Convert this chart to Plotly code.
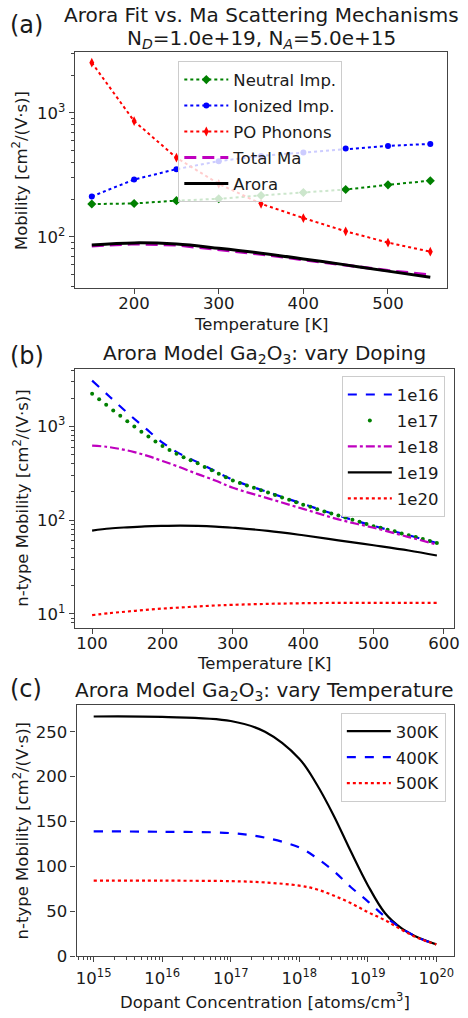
import plotly.graph_objects as go

# ---------------- Panel (a) data ----------------
T_a = [150, 200, 250, 300, 350, 400, 450, 500, 550]
neutral_imp = [184, 186, 196, 203, 216, 228, 241, 263, 284]
ionized_imp = [212, 290, 352, 408, 450, 479, 516, 542, 562]
po_phonons = [2540, 859, 435, 268, 185, 142, 111, 90, 76]
total_ma = [84.5, 88, 86, 79.5, 72.5, 65.5, 59, 53.5, 49.5]
arora_a = [86, 89.5, 87.5, 81, 74, 66.5, 59.5, 53, 47.3]

# ---------------- Panel (b) data ----------------
T_b = [100, 125, 150, 175, 200, 225, 250, 275, 300, 350, 400, 450, 500, 550, 590]
mu_1e16 = [3080, 2075, 1400, 969, 674, 510, 416, 333, 270, 199, 149, 112, 87, 69, 57]
T_b18 = [100, 120, 140, 160, 180, 200, 225, 250, 275, 300, 350, 400, 450, 500, 550, 590]
mu_1e18 = [625, 608, 575, 533, 482, 428, 367, 310, 265, 222, 171, 132, 102, 83, 66, 55]
mu_1e19 = [77.5, 81.5, 84, 86, 87, 87.5, 87, 85.5, 83, 77, 69, 61, 54, 47.5, 42]
mu_1e20 = [9.7, 10.2, 10.6, 11.0, 11.4, 11.7, 12.0, 12.3, 12.5, 12.8, 13.0, 13.1, 13.1, 13.1, 13.1]
T_b17 = [100, 110, 120, 130, 140, 150, 160, 170, 180, 190,
         200, 210, 220, 230, 240, 250, 260, 270, 280, 290,
         300, 310, 320, 330, 340, 350, 360, 370, 380, 390,
         400, 410, 420, 430, 440, 450, 460, 470, 480, 490,
         500, 510, 520, 530, 540, 550, 560, 570, 580, 590]
mu_1e17 = [2240, 1950, 1700, 1480, 1300, 1140, 1000, 880, 780, 690,
           620, 560, 510, 470, 435, 405, 370, 340, 312, 288,
           265, 250, 235, 222, 209, 197, 186, 175, 165, 155,
           146, 139, 131, 124, 118, 112, 107, 101, 96, 91,
           86, 83, 79, 76, 72, 69, 66, 63, 60, 57]

# ---------------- Panel (c) data ----------------
dop_exp = [15, 16, 17, 17.5, 18, 18.25, 18.5, 18.75, 19, 19.25, 19.5, 19.75, 20]
mu_300K = [267, 266.5, 262, 250, 220, 192, 157, 117, 79, 48, 30.5, 20, 13]
mu_400K = [139, 138.5, 137, 132, 121, 109.5, 95, 77, 61, 44, 30.5, 20, 13]
mu_500K = [84, 84, 83.5, 82, 78.5, 74.5, 67.5, 59, 49, 40, 29, 19.5, 13]
dopant = [10.0 ** e for e in dop_exp]

W, H = 468, 1018
FONT = "DejaVu Sans"
TXT = "#1a1a1a"
AX = "#444444"
FS = 16.5

def px_x(p):
    return p / W

def px_y(p):
    return 1 - p / H

fig = go.Figure()

def add(x, y, name, xa, ya, leg, **kw):
    fig.add_trace(go.Scatter(x=x, y=y, name=name, xaxis=xa, yaxis=ya, legend=leg,
                             legendgroup=name, **kw))

# Panel (a)
add(T_a, neutral_imp, "Neutral Imp.", "x", "y", "legend", mode="lines+markers",
    line=dict(color="#008000", dash="dot", width=2),
    marker=dict(symbol="diamond", size=7, color="#008000"))
add(T_a, ionized_imp, "Ionized Imp.", "x", "y", "legend", mode="lines+markers",
    line=dict(color="#0000ff", dash="dot", width=2),
    marker=dict(symbol="circle", size=6, color="#0000ff"))
add(T_a, po_phonons, "PO Phonons", "x", "y", "legend", mode="lines+markers",
    line=dict(color="#ff0000", dash="dot", width=2),
    marker=dict(symbol="diamond-tall", size=7, color="#ff0000"))
add(T_a, total_ma, "Total Ma", "x", "y", "legend", mode="lines",
    line=dict(color="#bf00bf", dash="12px,6px", width=3))
add(T_a, arora_a, "Arora", "x", "y", "legend", mode="lines",
    line=dict(color="black", width=3, shape="spline"))

# Panel (b)
add(T_b, mu_1e16, "1e16", "x2", "y2", "legend2", mode="lines",
    line=dict(color="#0000ff", dash="dash", width=2.2, shape="spline"))
add(T_b17, mu_1e17, "1e17", "x2", "y2", "legend2", mode="markers",
    marker=dict(color="#008000", size=4))
add(T_b18, mu_1e18, "1e18", "x2", "y2", "legend2", mode="lines",
    line=dict(color="#bf00bf", dash="dashdot", width=2.2, shape="spline"))
add(T_b, mu_1e19, "1e19", "x2", "y2", "legend2", mode="lines",
    line=dict(color="black", width=2.2, shape="spline"))
add(T_b, mu_1e20, "1e20", "x2", "y2", "legend2", mode="lines",
    line=dict(color="#ff0000", dash="dot", width=2.2, shape="spline"))

# Panel (c)
add(dopant, mu_300K, "300K", "x3", "y3", "legend3", mode="lines",
    line=dict(color="black", width=2.2, shape="spline"))
add(dopant, mu_400K, "400K", "x3", "y3", "legend3", mode="lines",
    line=dict(color="#0000ff", dash="dash", width=2.2, shape="spline"))
add(dopant, mu_500K, "500K", "x3", "y3", "legend3", mode="lines",
    line=dict(color="#ff0000", dash="dot", width=2.2, shape="spline"))

common = dict(showline=True, mirror=True, linecolor=AX, linewidth=1.2, showgrid=False,
              zeroline=False, ticks="outside", ticklen=5, tickcolor=AX, tickwidth=1,
              tickfont=dict(family=FONT, size=FS, color=TXT))

def log_minor(lo, hi):
    return [float(m) * 10.0 ** e for e in range(lo, hi) for m in range(2, 10)]

minor_style = dict(ticks="outside", ticklen=3, tickcolor=AX, tickwidth=1, showgrid=False)

legend_style = dict(xanchor="left", yanchor="top", bgcolor="rgba(255,255,255,0.8)",
                    bordercolor="#cccccc", borderwidth=1, traceorder="grouped",
                    tracegroupgap=1.5, itemwidth=44,
                    font=dict(family=FONT, size=FS, color=TXT))

fig.update_layout(
    width=W, height=H, margin=dict(l=0, r=0, t=0, b=0),
    paper_bgcolor="white", plot_bgcolor="white",
    font=dict(family=FONT, size=FS, color=TXT),
    xaxis=dict(domain=[px_x(75), px_x(453)], anchor="y", range=[130, 570],
               tickvals=[200, 300, 400, 500], ticklabelstandoff=-5, **common),
    yaxis=dict(domain=[px_y(291), px_y(53)], anchor="x", type="log", range=[1.587, 3.487],
               tickvals=[100, 1000], ticktext=["10<sup>2</sup>", "10<sup>3</sup>"],
               minor=dict(tickvals=log_minor(1, 4), **minor_style), **common),
    xaxis2=dict(domain=[px_x(75), px_x(460)], anchor="y2", range=[75.5, 614.5],
                tickvals=[100, 200, 300, 400, 500, 600], ticklabelstandoff=-5, **common),
    yaxis2=dict(domain=[px_y(634), px_y(372.3)], anchor="x2", type="log", range=[0.852, 3.617],
                tickvals=[10, 100, 1000],
                ticktext=["10<sup>1</sup>", "10<sup>2</sup>", "10<sup>3</sup>"],
                minor=dict(tickvals=log_minor(0, 4), **minor_style), **common),
    xaxis3=dict(domain=[px_x(76.7), px_x(460)], anchor="y3", type="log", range=[14.75, 20.26],
                tickvals=[1e15, 1e16, 1e17, 1e18, 1e19, 1e20],
                ticktext=["10<sup>15</sup>", "10<sup>16</sup>", "10<sup>17</sup>",
                          "10<sup>18</sup>", "10<sup>19</sup>", "10<sup>20</sup>"],
                ticklabelstandoff=2,
                minor=dict(tickvals=log_minor(14, 21), **minor_style), **common),
    yaxis3=dict(domain=[px_y(965.7), px_y(712.3)], anchor="x3", range=[-0.2, 279.5],
                tickvals=[0, 50, 100, 150, 200, 250], **common),
    legend=dict(x=px_x(180), y=px_y(62), **legend_style),
    legend2=dict(x=px_x(346), y=px_y(380), **legend_style),
    legend3=dict(x=px_x(345), y=px_y(720), **legend_style),
)

def ann(text, x, y, size=FS, angle=0, xanchor="center"):
    fig.add_annotation(text=text, x=px_x(x), y=px_y(y), xref="paper", yref="paper",
                       showarrow=False, xanchor=xanchor, yanchor="middle", textangle=angle,
                       font=dict(family=FONT, size=size, color=TXT))

TS = 20
# Panel (a) texts
ann("Arora Fit vs. Ma Scattering Mechanisms", 264, 15, TS)
ann("N<sub><i>D</i></sub>=1.0e+19, N<sub><i>A</i></sub>=5.0e+15", 264, 39, TS)
ann("(a)", 7, 25, 24, xanchor="left")
ann("Temperature [K]", 264, 328)
ann("Mobility [cm<sup>2</sup>/(V·s)]", 20, 172, angle=-90)

# Panel (b) texts
ann("Arora Model Ga<sub>2</sub>O<sub>3</sub>: vary Doping", 267, 358, TS)
ann("(b)", 7, 360, 24, xanchor="left")
ann("Temperature [K]", 267, 670)
ann("n-type Mobility [cm<sup>2</sup>/(V·s)]", 20, 503, angle=-90)

# Panel (c) texts
ann("Arora Model Ga<sub>2</sub>O<sub>3</sub>: vary Temperature", 268, 698, TS)
ann("(c)", 7, 696, 24, xanchor="left")
ann("Dopant Concentration [atoms/cm<sup>3</sup>]", 268, 1011)
ann("n-type Mobility [cm<sup>2</sup>/(V·s)]", 20, 839, angle=-90)

fig.write_html("out.html")
